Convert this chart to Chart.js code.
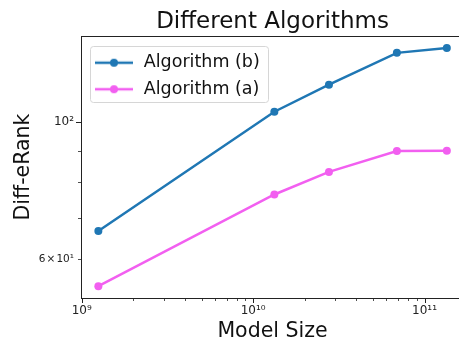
<!DOCTYPE html>
<html>
<head>
<meta charset="utf-8">
<script src="https://cdn.jsdelivr.net/npm/chart.js@4"></script>
<style>
  html, body { margin: 0; padding: 0; background: #fff; overflow: hidden; }
  #chart { display: block; }
</style>
</head>
<body>
<canvas id="chart" width="464" height="340"></canvas>
<script>
'use strict';

// values
const modelSizes = [1.25e9, 1.33e10, 2.77e10, 6.9e10, 1.35e11];
const algorithmB = [66.7, 104.0, 115.0, 129.5, 131.9];
const algorithmA = [54.3, 76.4, 83.1, 89.8, 89.9];

const xTickValues = [1e9, 2e9, 3e9, 4e9, 5e9, 6e9, 7e9, 8e9, 9e9,
    1e10, 2e10, 3e10, 4e10, 5e10, 6e10, 7e10, 8e10, 9e10, 1e11];
const xTickLabels = { 1e9: '10⁹', 1e10: '10¹⁰', 1e11: '10¹¹' };
const yTickValues = [60, 70, 80, 90, 100];
const yTickLabels = { 60: '6\u200a×\u200a10¹', 100: '10²' };

const BLUE = '#1f77b4';
const PINK = '#f25ff0';
const FONT = "'DejaVu Sans', sans-serif";

function legendMarker(color) {
    const c = document.createElement('canvas');
    c.width = 38;
    c.height = 10;
    const g = c.getContext('2d');
    g.strokeStyle = color;
    g.lineWidth = 2.5;
    g.beginPath();
    g.moveTo(0, 5);
    g.lineTo(38, 5);
    g.stroke();
    g.fillStyle = color;
    g.beginPath();
    g.arc(19, 5, 4, 0, Math.PI * 2);
    g.fill();
    return c;
}

function toPoints(values) {
    return modelSizes.map((x, i) => ({ x: x, y: values[i] }));
}

function isMajor(v) {
    const l = Math.log10(v);
    return Math.abs(l - Math.round(l)) < 1e-9;
}

// ticks outside the axes, frame top line and legend box
const axesDecor = {
    id: 'axesDecor',
    afterLayout(chart) {
        const area = chart.chartArea;
        chart.legend.left = area.left + 3;
        chart.legend.top = area.top + 9;
    },
    beforeDraw(chart) {
        const ctx = chart.ctx;
        ctx.save();
        ctx.fillStyle = 'rgba(255,255,255,0.8)';
        ctx.strokeStyle = '#d6d6d6';
        ctx.lineWidth = 1;
        ctx.beginPath();
        ctx.roundRect(90.5, 46.5, 178, 56, 3);
        ctx.fill();
        ctx.stroke();
        ctx.restore();
    },
    afterDraw(chart) {
        const ctx = chart.ctx;
        const area = chart.chartArea;
        const xs = chart.scales.x;
        const ys = chart.scales.y;
        ctx.save();
        ctx.strokeStyle = '#222';
        xTickValues.forEach((v) => {
            const px = Math.round(xs.getPixelForValue(v)) + 0.5;
            const len = isMajor(v) ? 5 : 3;
            ctx.lineWidth = isMajor(v) ? 1 : 0.8;
            ctx.beginPath();
            ctx.moveTo(px, area.bottom);
            ctx.lineTo(px, area.bottom + len);
            ctx.stroke();
        });
        yTickValues.forEach((v) => {
            const py = Math.round(ys.getPixelForValue(v)) + 0.5;
            const len = isMajor(v) ? 5 : 3;
            ctx.lineWidth = isMajor(v) ? 1 : 0.8;
            ctx.beginPath();
            ctx.moveTo(area.left, py);
            ctx.lineTo(area.left - len, py);
            ctx.stroke();
        });
        ctx.lineWidth = 1;
        ctx.beginPath();
        ctx.moveTo(area.left, Math.round(area.top) + 0.5);
        ctx.lineTo(area.right, Math.round(area.top) + 0.5);
        ctx.stroke();
        ctx.restore();
    }
};

new Chart(document.getElementById('chart'), {
    type: 'line',
    data: {
        datasets: [
            {
                label: 'Algorithm (b)',
                data: toPoints(algorithmB),
                borderColor: BLUE,
                backgroundColor: BLUE,
                borderWidth: 2.5,
                pointRadius: 4,
                pointBorderWidth: 0,
                pointBackgroundColor: BLUE,
                pointStyle: 'circle'
            },
            {
                label: 'Algorithm (a)',
                data: toPoints(algorithmA),
                borderColor: PINK,
                backgroundColor: PINK,
                borderWidth: 2.5,
                pointRadius: 4,
                pointBorderWidth: 0,
                pointBackgroundColor: PINK,
                pointStyle: 'circle'
            }
        ]
    },
    options: {
        responsive: false,
        animation: false,
        devicePixelRatio: 1,
        layout: { padding: 0, autoPadding: false },
        scales: {
            x: {
                type: 'logarithmic',
                min: 0.99e9,
                max: 1.7e11,
                grid: { display: false, drawTicks: false },
                border: { display: true, color: '#222', width: 1 },
                afterBuildTicks(scale) {
                    scale.ticks = xTickValues.map((v) => ({ value: v, major: isMajor(v) }));
                },
                afterFit(scale) {
                    scale.height = 42;
                    scale.paddingLeft = 0;
                    scale.paddingRight = 0;
                },
                ticks: {
                    autoSkip: false,
                    maxRotation: 0,
                    padding: 6,
                    color: '#222',
                    font: { family: FONT, size: 12 },
                    callback: (v) => xTickLabels[v] || ''
                },
                title: {
                    display: true,
                    text: 'Model Size',
                    color: '#111',
                    font: { family: FONT, size: 20.5, lineHeight: 1 },
                    padding: { top: 0, bottom: -2 }
                }
            },
            y: {
                type: 'logarithmic',
                min: 51.95,
                max: 137.9,
                grid: { display: false, drawTicks: false },
                border: { display: true, color: '#222', width: 1 },
                afterBuildTicks(scale) {
                    scale.ticks = yTickValues.map((v) => ({ value: v, major: isMajor(v) }));
                },
                afterFit(scale) {
                    scale.width = 81;
                },
                ticks: {
                    autoSkip: false,
                    padding: 7,
                    color: '#222',
                    font: (ctx) => ({ family: FONT, size: ctx.tick && ctx.tick.value === 60 ? 10.5 : 12 }),
                    callback: (v) => yTickLabels[v] || ''
                },
                title: {
                    display: true,
                    text: 'Diff-eRank',
                    color: '#111',
                    font: { family: FONT, size: 20.5, lineHeight: 1 },
                    padding: { top: 13, bottom: 0 }
                }
            }
        },
        plugins: {
            title: {
                display: true,
                text: 'Different Algorithms',
                fullSize: false,
                color: '#111',
                font: { family: FONT, size: 23, weight: 'normal', lineHeight: 1 },
                padding: { top: 11, bottom: 2 }
            },
            legend: {
                position: 'chartArea',
                align: 'start',
                labels: {
                    usePointStyle: true,
                    pointStyleWidth: 42,
                    padding: 9,
                    color: '#111',
                    font: { family: FONT, size: 17.5 },
                    generateLabels(chart) {
                        return chart.data.datasets.map((ds, i) => ({
                            text: ds.label,
                            datasetIndex: i,
                            pointStyle: legendMarker(ds.borderColor),
                            fillStyle: ds.borderColor,
                            strokeStyle: ds.borderColor,
                            lineWidth: 0,
                            hidden: false,
                            fontColor: '#111'
                        }));
                    }
                }
            },
            tooltip: { enabled: false }
        }
    },
    plugins: [axesDecor]
});
</script>
</body>
</html>
